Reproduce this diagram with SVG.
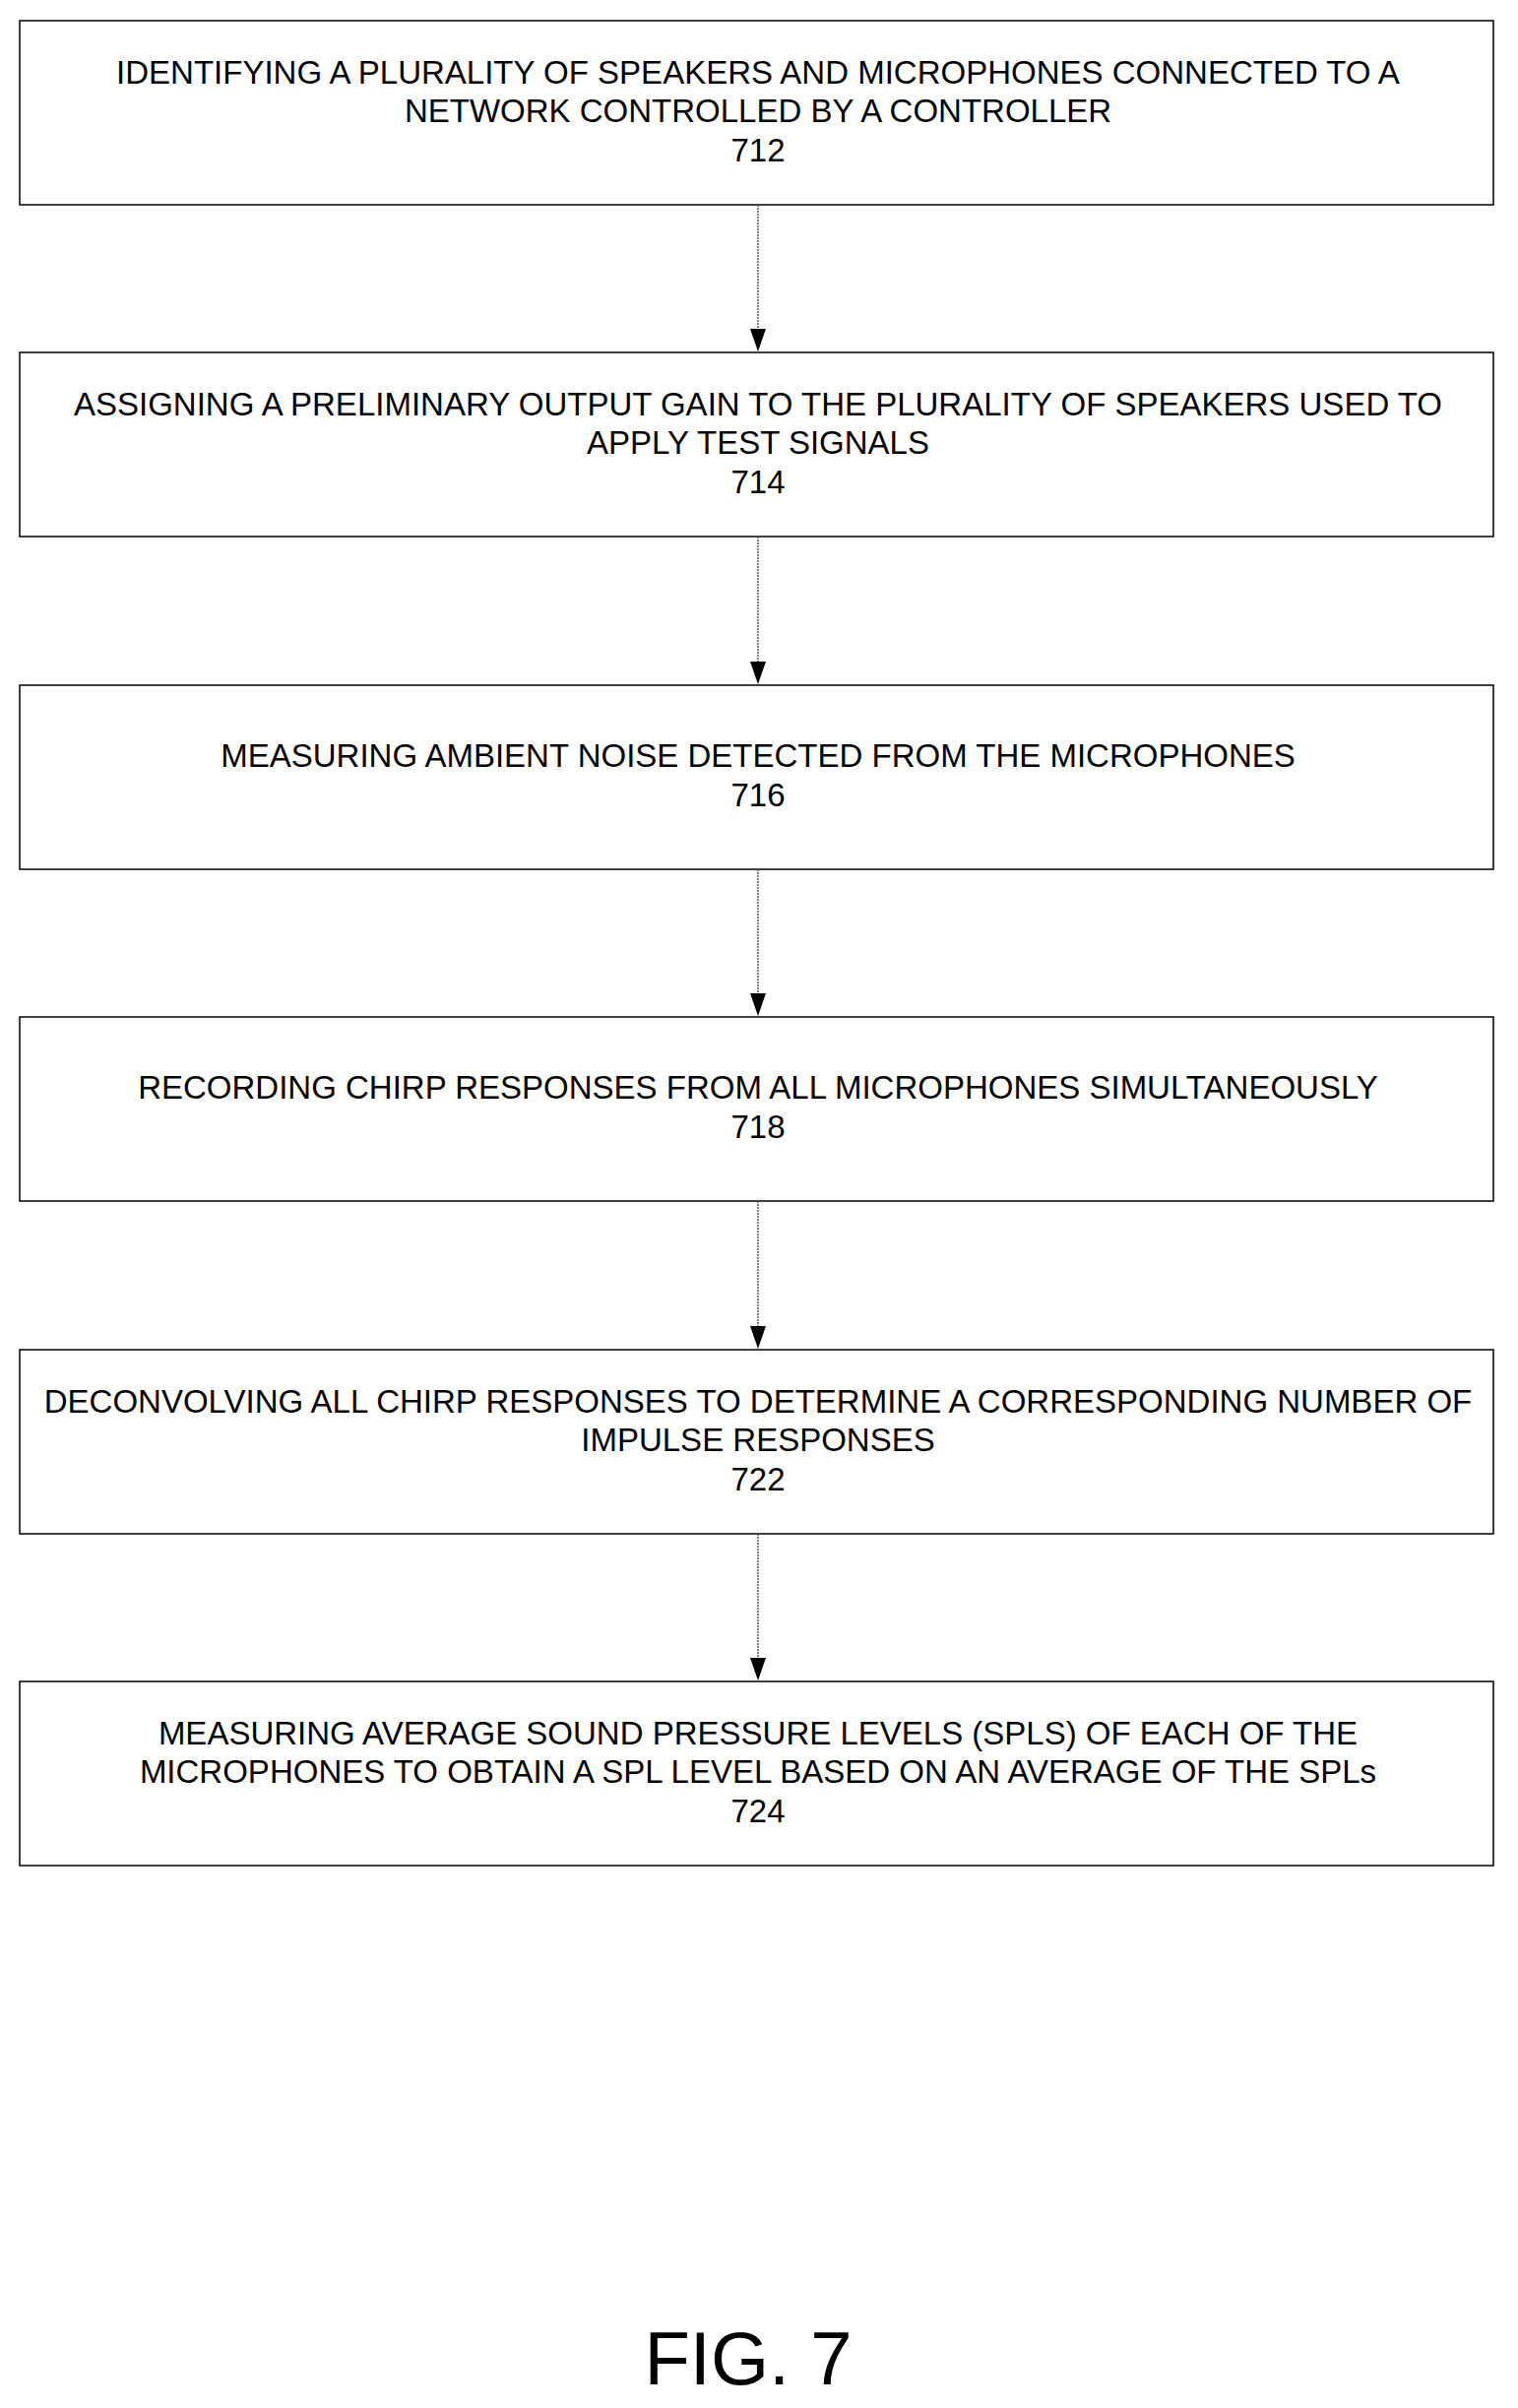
<svg xmlns="http://www.w3.org/2000/svg" width="1542" height="2446" viewBox="0 0 1542 2446">
<style>
rect.b{fill:#fff;stroke:#000;stroke-width:1.5}
text{font-family:"Liberation Sans",Arial,sans-serif;font-size:33px;text-anchor:middle;fill:#000}
.c{stroke:#555;stroke-width:1.5;stroke-dasharray:2 1;fill:none}
</style>
<rect width="1542" height="2446" fill="#fff"/>
<g id="n712"><rect class="b" x="20" y="21" width="1497" height="187"/><text x="770" y="85">IDENTIFYING A PLURALITY OF SPEAKERS AND MICROPHONES CONNECTED TO A</text><text x="770" y="124">NETWORK CONTROLLED BY A CONTROLLER</text><text x="770" y="164">712</text></g>
<g id="n714"><rect class="b" x="20" y="358" width="1497" height="187"/><text x="770" y="422">ASSIGNING A PRELIMINARY OUTPUT GAIN TO THE PLURALITY OF SPEAKERS USED TO</text><text x="770" y="461">APPLY TEST SIGNALS</text><text x="770" y="501">714</text></g>
<g id="n716"><rect class="b" x="20" y="696" width="1497" height="187"/><text x="770" y="779">MEASURING AMBIENT NOISE DETECTED FROM THE MICROPHONES</text><text x="770" y="819">716</text></g>
<g id="n718"><rect class="b" x="20" y="1033" width="1497" height="187"/><text x="770" y="1116">RECORDING CHIRP RESPONSES FROM ALL MICROPHONES SIMULTANEOUSLY</text><text x="770" y="1156">718</text></g>
<g id="n722"><rect class="b" x="20" y="1371" width="1497" height="187"/><text x="770" y="1435">DECONVOLVING ALL CHIRP RESPONSES TO DETERMINE A CORRESPONDING NUMBER OF</text><text x="770" y="1474">IMPULSE RESPONSES</text><text x="770" y="1514">722</text></g>
<g id="n724"><rect class="b" x="20" y="1708" width="1497" height="187"/><text x="770" y="1772">MEASURING AVERAGE SOUND PRESSURE LEVELS (SPLS) OF EACH OF THE</text><text x="770" y="1811">MICROPHONES TO OBTAIN A SPL LEVEL BASED ON AN AVERAGE OF THE SPLs</text><text x="770" y="1851">724</text></g>
<g id="connectors">
<line class="c" x1="770" y1="208" x2="770" y2="334"/><path d="M762,334 L778,334 L770,357 Z"/>
<line class="c" x1="770" y1="545" x2="770" y2="672"/><path d="M762,672 L778,672 L770,695 Z"/>
<line class="c" x1="770" y1="883" x2="770" y2="1009"/><path d="M762,1009 L778,1009 L770,1032 Z"/>
<line class="c" x1="770" y1="1220" x2="770" y2="1347"/><path d="M762,1347 L778,1347 L770,1370 Z"/>
<line class="c" x1="770" y1="1558" x2="770" y2="1684"/><path d="M762,1684 L778,1684 L770,1707 Z"/>
</g>
<text x="760" y="2422" style="font-size:76px">FIG. 7</text>
</svg>
